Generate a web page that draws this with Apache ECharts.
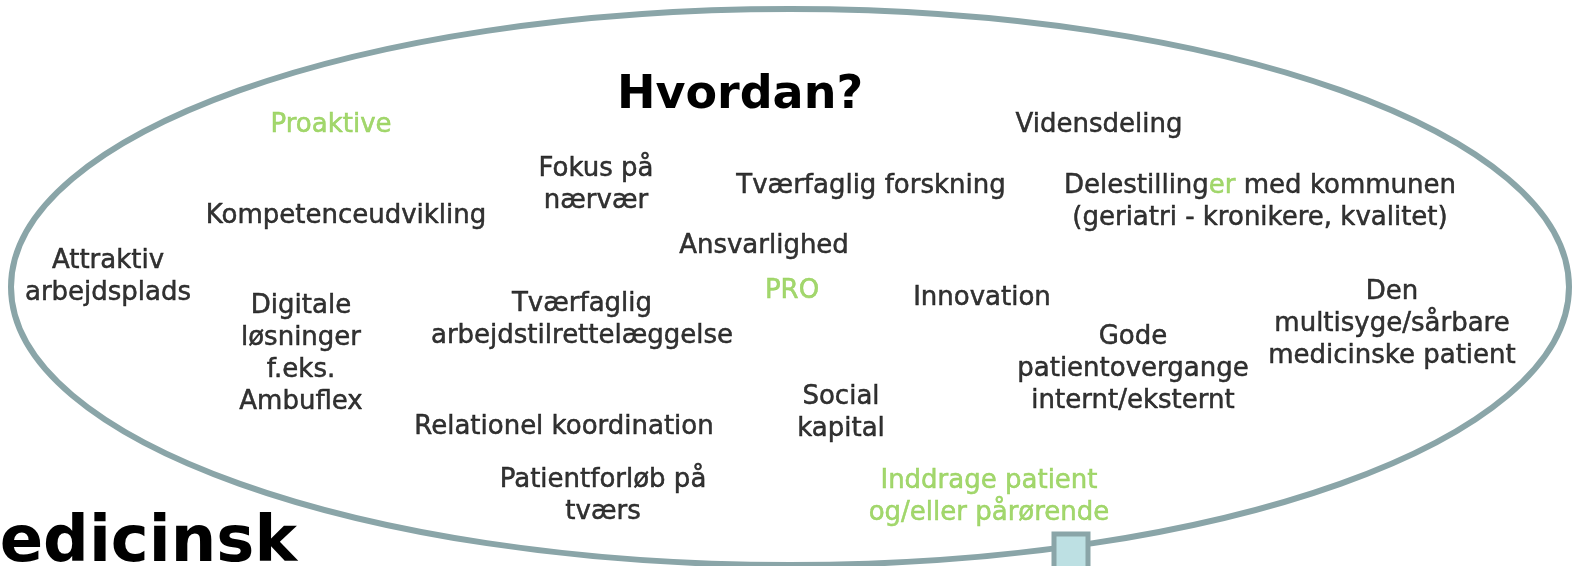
<!DOCTYPE html>
<html lang="da">
<head>
    <meta charset="utf-8" />
    <title>Hvordan?</title>
    <script src="https://cdn.jsdelivr.net/npm/echarts@6/dist/echarts.min.js"></script>
    <style>
        body {
            margin: 0;
            padding: 0;
            background: #ffffff;
        }

        #main {
            width: 1574px;
            height: 566px;
        }
    </style>
</head>
<body>
<div id="main"></div>
<script type="text/javascript">
    // Labels in the bubble (x, y = centre of the text block, in px)
    const labels = [
        'Vidensdeling',
        'Fokus på\nnærvær',
        'Tværfaglig forskning',
        '{d|Delestilling}{g|er}{d| med kommunen}\n{d|(geriatri - kronikere, kvalitet)}',
        'Kompetenceudvikling',
        'Ansvarlighed',
        'Attraktiv\narbejdsplads',
        'PRO',
        'Innovation',
        'Den\nmultisyge/sårbare\nmedicinske patient',
        'Digitale\nløsninger\nf.eks.\nAmbuflex',
        'Tværfaglig\narbejdstilrettelæggelse',
        'Gode\npatientovergange\ninternt/eksternt',
        'Social\nkapital',
        'Relationel koordination',
        'Patientforløb på\ntværs',
        'Inddrage patient\nog/eller pårørende',
        'Proaktive'
    ];
    const labelX = [1099, 596, 871, 1260, 346, 764, 108, 792, 982, 1392, 301, 582, 1133, 841, 564, 603, 989, 331];
    const labelY = [125, 185, 186, 202, 216, 246, 277, 291, 298, 324, 354, 320, 369, 413, 427, 496, 497, 125];
    // labels written in green
    const greenLabels = ['PRO', 'Inddrage patient\nog/eller pårørende', 'Proaktive'];

    const title = 'Hvordan?';
    const footer = 'Medicinsk';

    const green = '#8ccd4a';
    const ink = '#000000';
    const rim = '#8aa5a8';
    const font = 'DejaVu Sans';

    var myChart = echarts.init(document.getElementById('main'));

    var points = labels.map(function (txt, i) {
        var c = greenLabels.indexOf(txt) >= 0 ? green : ink;
        return {
            value: [labelX[i], labelY[i]],
            label: {
                formatter: txt,
                color: c,
                textBorderColor: c
            }
        };
    });

    var option = {
        backgroundColor: '#ffffff',
        animation: false,
        grid: {left: 0, right: 0, top: 0, bottom: 0},
        xAxis: {type: 'value', min: 0, max: 1574, show: false},
        yAxis: {type: 'value', min: 0, max: 566, inverse: true, show: false},
        graphic: [
            {
                type: 'ellipse',
                shape: {cx: 790, cy: 287, rx: 779, ry: 278},
                style: {fill: 'none', stroke: rim, lineWidth: 6},
                z: 1
            },
            {
                type: 'rect',
                shape: {x: 1054, y: 534, width: 34, height: 40},
                style: {fill: '#bde0e3', stroke: rim, lineWidth: 5},
                z: 2
            },
            {
                type: 'text',
                x: 740,
                y: 96,
                style: {
                    text: title,
                    font: 'bold 46px "' + font + '"',
                    fill: ink,
                    align: 'center',
                    verticalAlign: 'middle'
                },
                z: 3
            },
            {
                type: 'text',
                x: -64,
                y: 544,
                style: {
                    text: footer,
                    font: 'bold 64px "' + font + '"',
                    fill: ink,
                    align: 'left',
                    verticalAlign: 'middle'
                },
                z: 3
            }
        ],
        series: [
            {
                type: 'scatter',
                symbolSize: 0,
                data: points,
                z: 3,
                label: {
                    show: true,
                    position: 'inside',
                    align: 'center',
                    verticalAlign: 'middle',
                    fontFamily: font,
                    fontSize: 26,
                    lineHeight: 32,
                    textBorderWidth: 0.5,
                    rich: {
                        d: {color: ink, textBorderColor: ink, textBorderWidth: 0.5, fontFamily: font, fontSize: 26, lineHeight: 32},
                        g: {color: green, textBorderColor: green, textBorderWidth: 0.5, fontFamily: font, fontSize: 26, lineHeight: 32}
                    }
                }
            }
        ]
    };

    myChart.setOption(option);
</script>
</body>
</html>
